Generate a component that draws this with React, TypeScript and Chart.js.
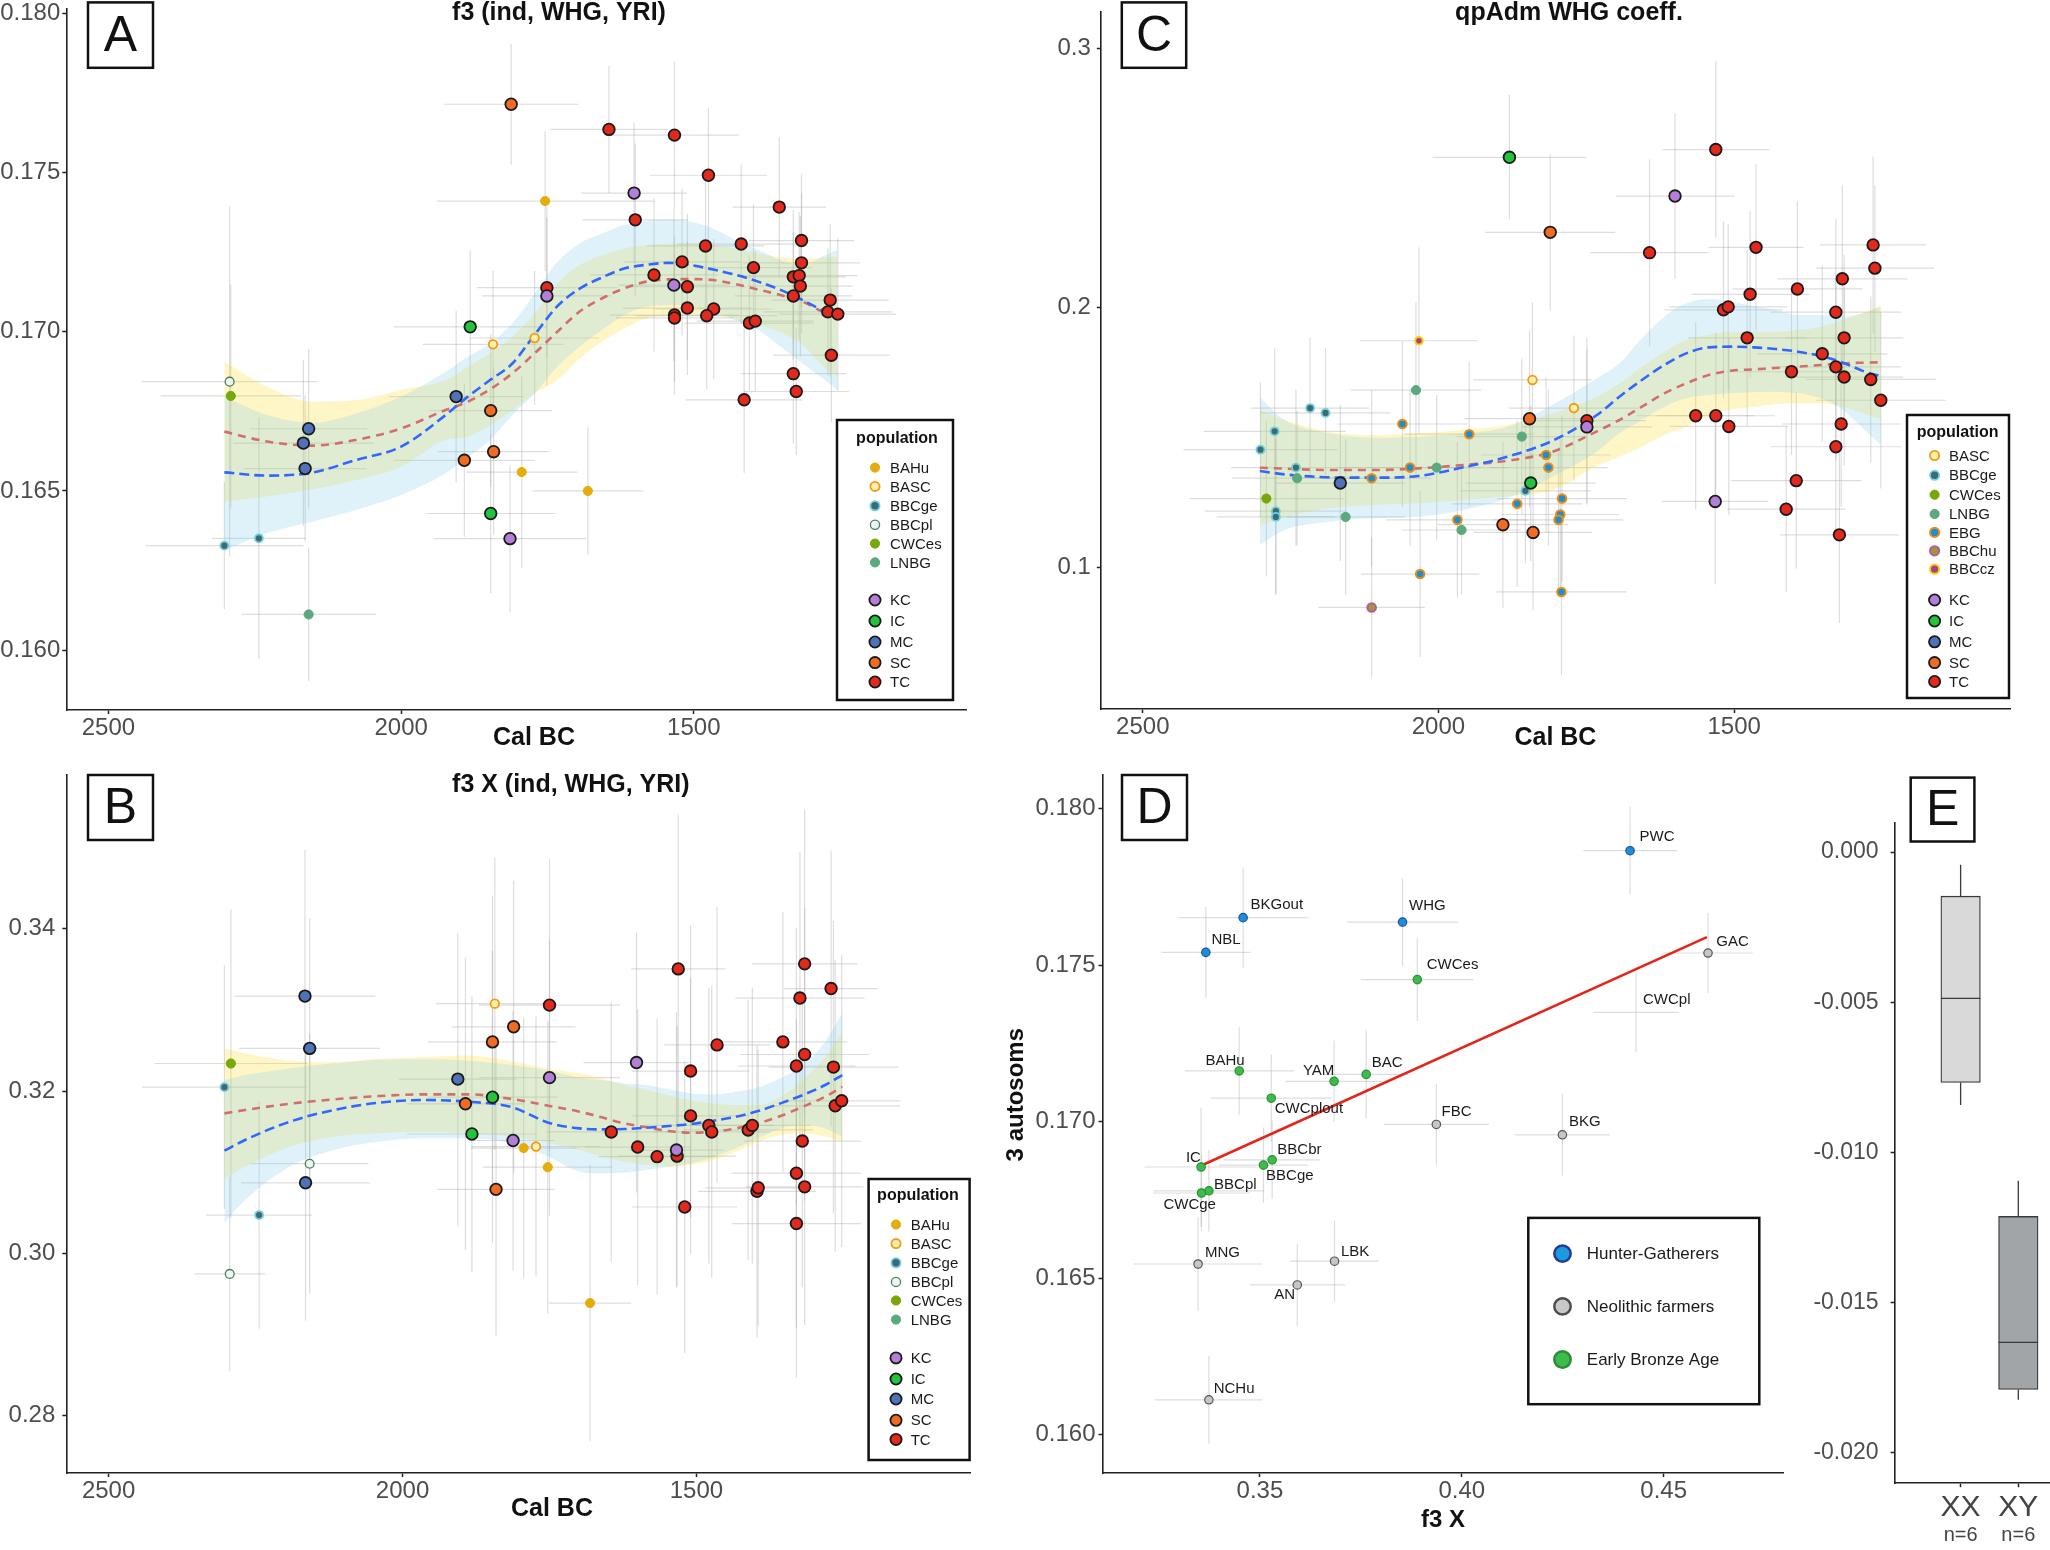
import React, { useEffect, useRef } from 'react';
import { Chart, registerables } from 'chart.js';

Chart.register(...registerables);

const FONT = '"Liberation Sans", Arial, Helvetica, sans-serif';
Chart.defaults.font.family = FONT;
const TICK = '#4d4d4d';
const AXIS = '#222222';

type P = [number, number, number, number]; // x, y, x error, y error

// ================= Panel A : f3 (ind, WHG, YRI) =================
const aBAHu: P[] = [[1754, 0.17410, 185, 0.0022], [1794, 0.16559, 95, 0.0030], [1681, 0.16500, 95, 0.0020]];
const aBASC: P[] = [[1843, 0.16960, 120, 0.0023], [1772, 0.16980, 110, 0.0021]];
const aBBCge: P[] = [[2302, 0.16328, 135, 0.0020], [2243, 0.16351, 80, 0.0038]];
const aBBCpl: P[] = [[2293, 0.16843, 150, 0.0055]];
const aCWCes: P[] = [[2291, 0.16798, 120, 0.0035]];
const aLNBG: P[] = [[2158, 0.16112, 115, 0.0021]];
const aKC: P[] = [[1814, 0.16350, 130, 0.0023], [1751, 0.17112, 110, 0.0028], [1602, 0.17435, 90, 0.0022], [1534, 0.17146, 95, 0.0024]];
const aIC: P[] = [[1882, 0.17015, 130, 0.0024], [1847, 0.16429, 110, 0.0025]];
const aMC: P[] = [[2158, 0.16695, 100, 0.0025], [2167, 0.16650, 120, 0.0026], [2164, 0.16570, 105, 0.0023], [1906, 0.16796, 115, 0.0027]];
const aSC: P[] = [[1812, 0.17714, 115, 0.0019], [1847, 0.16752, 105, 0.0024], [1842, 0.16623, 95, 0.0026], [1892, 0.16596, 120, 0.0024]];
const aTC: P[] = [
  [1751, 0.17138, 120, 0.0022], [1645, 0.17635, 100, 0.0020], [1533, 0.17617, 110, 0.0023], [1475, 0.17491, 100, 0.0021],
  [1600, 0.17351, 90, 0.0024], [1354, 0.17391, 80, 0.0022], [1480, 0.17269, 100, 0.0020], [1419, 0.17275, 110, 0.0025],
  [1316, 0.17286, 90, 0.0021], [1520, 0.17219, 100, 0.0023], [1398, 0.17201, 100, 0.0020], [1316, 0.17216, 100, 0.0022],
  [1568, 0.17178, 110, 0.0024], [1330, 0.17172, 90, 0.0021], [1320, 0.17176, 100, 0.0020], [1511, 0.17141, 100, 0.0023],
  [1318, 0.17143, 90, 0.0022], [1330, 0.17112, 100, 0.0020], [1267, 0.17099, 100, 0.0024], [1511, 0.17074, 110, 0.0021],
  [1466, 0.17071, 100, 0.0022], [1533, 0.17052, 110, 0.0025], [1533, 0.17043, 100, 0.0020], [1478, 0.17050, 120, 0.0023],
  [1405, 0.17027, 110, 0.0021], [1395, 0.17033, 100, 0.0022], [1271, 0.17062, 110, 0.0020], [1254, 0.17055, 100, 0.0024],
  [1265, 0.16926, 100, 0.0021], [1330, 0.16868, 90, 0.0022], [1325, 0.16812, 90, 0.0020], [1414, 0.16786, 100, 0.0023],
];
const aSmoothX = [2302, 2229, 2153, 2077, 2000, 1924, 1886, 1848, 1810, 1772, 1733, 1695, 1657, 1619, 1581, 1543, 1505, 1467, 1428, 1390, 1352, 1314, 1276, 1255];
const aBlueFit = [0.16558, 0.16548, 0.16557, 0.16597, 0.16639, 0.16738, 0.16796, 0.16848, 0.16900, 0.16990, 0.17080, 0.17135, 0.17170, 0.17198, 0.17210, 0.17216, 0.17209, 0.17195, 0.17178, 0.17157, 0.17131, 0.17099, 0.17063, 0.17047];
const aBlueHi = [0.16796, 0.16738, 0.16714, 0.16743, 0.16796, 0.16874, 0.16921, 0.16963, 0.17026, 0.17120, 0.17219, 0.17277, 0.17308, 0.17335, 0.17348, 0.17352, 0.17345, 0.17324, 0.17287, 0.17256, 0.17225, 0.17209, 0.17240, 0.17256];
const aBlueLo = [0.16314, 0.16367, 0.16403, 0.16440, 0.16487, 0.16555, 0.16607, 0.16660, 0.16738, 0.16806, 0.16890, 0.16953, 0.17005, 0.17052, 0.17078, 0.17083, 0.17080, 0.17063, 0.17036, 0.17005, 0.16953, 0.16900, 0.16848, 0.16817];
const aRedFit = [0.16686, 0.16655, 0.16642, 0.16660, 0.16696, 0.16754, 0.16780, 0.16819, 0.16869, 0.16932, 0.17000, 0.17063, 0.17104, 0.17136, 0.17157, 0.17164, 0.17165, 0.17162, 0.17149, 0.17132, 0.17115, 0.17094, 0.17059, 0.17047];
const aYelHi = [0.16906, 0.16827, 0.16780, 0.16785, 0.16817, 0.16848, 0.16890, 0.16932, 0.16984, 0.17057, 0.17151, 0.17209, 0.17240, 0.17261, 0.17272, 0.17277, 0.17277, 0.17272, 0.17261, 0.17246, 0.17233, 0.17230, 0.17233, 0.17235];
const aYelLo = [0.16466, 0.16482, 0.16504, 0.16534, 0.16576, 0.16660, 0.16670, 0.16706, 0.16754, 0.16806, 0.16848, 0.16916, 0.16968, 0.17010, 0.17042, 0.17051, 0.17053, 0.17052, 0.17037, 0.17020, 0.16997, 0.16958, 0.16886, 0.16859];
const aYTicks = [0.160, 0.165, 0.170, 0.175, 0.180];

// ================= Panel B : f3 X (ind, WHG, YRI) =================
const bBAHu: P[] = [[1794, 0.31298, 90, 0.016], [1753, 0.31062, 110, 0.018], [1681, 0.29389, 70, 0.017]];
const bBASC: P[] = [[1843, 0.33076, 100, 0.018], [1773, 0.31316, 110, 0.016]];
const bBBCge: P[] = [[2303, 0.32048, 140, 0.015], [2244, 0.30473, 90, 0.014]];
const bBBCpl: P[] = [[2294, 0.29748, 60, 0.012], [2158, 0.31105, 100, 0.016]];
const bCWCes: P[] = [[2292, 0.32339, 130, 0.019]];
const bLNBG: P[] = [];
const bKC: P[] = [[1812, 0.31391, 70, 0.016], [1750, 0.32165, 120, 0.017], [1602, 0.32351, 90, 0.016], [1534, 0.31273, 80, 0.017]];
const bIC: P[] = [[1847, 0.31924, 110, 0.018], [1882, 0.31471, 110, 0.017]];
const bMC: P[] = [[2166, 0.33169, 120, 0.018], [2158, 0.32525, 120, 0.016], [2165, 0.30870, 110, 0.017], [1906, 0.32147, 100, 0.018]];
const bSC: P[] = [[1893, 0.31843, 100, 0.018], [1847, 0.32605, 110, 0.018], [1811, 0.32791, 105, 0.018], [1841, 0.30789, 100, 0.018]];
const bTC: P[] = [
  [1750, 0.33058, 120, 0.018], [1645, 0.31496, 110, 0.016], [1600, 0.31310, 90, 0.017], [1567, 0.31192, 100, 0.017],
  [1533, 0.31198, 100, 0.016], [1531, 0.33504, 80, 0.019], [1520, 0.30572, 90, 0.018], [1510, 0.32246, 100, 0.018],
  [1510, 0.31694, 100, 0.017], [1479, 0.31576, 110, 0.017], [1474, 0.31496, 100, 0.018], [1465, 0.32568, 90, 0.017],
  [1412, 0.31521, 110, 0.016], [1405, 0.31576, 100, 0.017], [1397, 0.30765, 100, 0.018], [1395, 0.30808, 90, 0.017],
  [1353, 0.32605, 110, 0.016], [1330, 0.32308, 100, 0.017], [1316, 0.32450, 110, 0.018], [1324, 0.33145, 110, 0.018],
  [1316, 0.33566, 90, 0.019], [1271, 0.33262, 80, 0.017], [1267, 0.32295, 110, 0.018], [1320, 0.31384, 100, 0.018],
  [1330, 0.30988, 110, 0.019], [1316, 0.30820, 100, 0.017], [1330, 0.30368, 110, 0.019], [1264, 0.31818, 110, 0.018],
  [1253, 0.31880, 100, 0.018],
];
const bSmoothX = [2303, 2268, 2192, 2117, 2041, 1965, 1889, 1813, 1752, 1699, 1661, 1623, 1585, 1547, 1509, 1471, 1433, 1395, 1357, 1319, 1281, 1252];
const bBlueFit = [0.31265, 0.31397, 0.31622, 0.31766, 0.31856, 0.31889, 0.31869, 0.31799, 0.31610, 0.31540, 0.31528, 0.31532, 0.31548, 0.31569, 0.31594, 0.31635, 0.31684, 0.31754, 0.31848, 0.31951, 0.32074, 0.32197];
const bRedFit = [0.31725, 0.31766, 0.31844, 0.31897, 0.31938, 0.31959, 0.31959, 0.31901, 0.31819, 0.31746, 0.31676, 0.31602, 0.31553, 0.31507, 0.31487, 0.31499, 0.31540, 0.31602, 0.31692, 0.31807, 0.31930, 0.32053];
const bBlueHi = [0.32135, 0.32197, 0.32279, 0.32341, 0.32382, 0.32390, 0.32374, 0.32320, 0.32250, 0.32168, 0.32135, 0.32094, 0.32074, 0.32021, 0.31971, 0.31959, 0.31992, 0.32045, 0.32156, 0.32320, 0.32608, 0.32957];
const bBlueLo = [0.30379, 0.30658, 0.31068, 0.31273, 0.31376, 0.31417, 0.31417, 0.31356, 0.31191, 0.31007, 0.30986, 0.30994, 0.31027, 0.31068, 0.31109, 0.31191, 0.31294, 0.31417, 0.31540, 0.31581, 0.31540, 0.31438];
const bYelHi = [0.32526, 0.32464, 0.32374, 0.32357, 0.32398, 0.32419, 0.32439, 0.32365, 0.32275, 0.32218, 0.32160, 0.32074, 0.32016, 0.31947, 0.31885, 0.31848, 0.31828, 0.31828, 0.31926, 0.32135, 0.32419, 0.32731];
const bYelLo = [0.30924, 0.31068, 0.31315, 0.31438, 0.31479, 0.31499, 0.31479, 0.31438, 0.31364, 0.31273, 0.31191, 0.31130, 0.31089, 0.31068, 0.31089, 0.31150, 0.31253, 0.31376, 0.31458, 0.31479, 0.31438, 0.31376];
const bYTicks = [0.28, 0.30, 0.32, 0.34];

// ================= Panel C : qpAdm WHG coeff. =================
const cBASC: P[] = [[1841, 0.17221, 100, 0.030], [1771, 0.16139, 110, 0.028]];
const cBBCge: P[] = [[2301, 0.14534, 130, 0.026], [2277, 0.15243, 120, 0.032], [2217, 0.16139, 100, 0.027], [2191, 0.15952, 110, 0.025], [2241, 0.13844, 110, 0.030], [2275, 0.12165, 120, 0.032], [2275, 0.11941, 100, 0.030], [1853, 0.12949, 110, 0.028]];
const cCWCes: P[] = [[2291, 0.12650, 130, 0.030]];
const cLNBG: P[] = [[2239, 0.13434, 110, 0.026], [2157, 0.11941, 100, 0.030], [2038, 0.16829, 110, 0.034], [2003, 0.13844, 120, 0.028], [1961, 0.11438, 100, 0.025], [1859, 0.15038, 110, 0.030]];
const cEBG: P[] = [[2113, 0.13434, 100, 0.034], [2061, 0.15523, 110, 0.032], [2048, 0.13844, 120, 0.030], [2031, 0.09740, 100, 0.032], [1948, 0.15131, 110, 0.028], [1968, 0.11830, 120, 0.030], [1867, 0.12445, 110, 0.032], [1818, 0.14329, 110, 0.030], [1814, 0.13844, 100, 0.030], [1791, 0.12650, 110, 0.032], [1794, 0.12035, 100, 0.030], [1797, 0.11830, 110, 0.028], [1792, 0.09050, 110, 0.032]];
const cBBChu: P[] = [[2113, 0.08453, 90, 0.027]];
const cBBCcz: P[] = [[2033, 0.18732, 100, 0.036]];
const cKC: P[] = [[1600, 0.24310, 100, 0.032], [1749, 0.15411, 110, 0.030], [1532, 0.12538, 90, 0.032]];
const cIC: P[] = [[1880, 0.25802, 130, 0.024], [1844, 0.13247, 110, 0.030]];
const cMC: P[] = [[2166, 0.13247, 110, 0.030]];
const cSC: P[] = [[1811, 0.22911, 110, 0.030], [1846, 0.15728, 110, 0.034], [1891, 0.11643, 110, 0.032], [1840, 0.11344, 100, 0.030]];
const cTC: P[] = [
  [1749, 0.15654, 100, 0.032], [1531, 0.26101, 90, 0.034], [1643, 0.22127, 100, 0.036], [1463, 0.22332, 80, 0.032],
  [1265, 0.22426, 90, 0.034], [1262, 0.21530, 100, 0.032], [1317, 0.21119, 110, 0.036], [1393, 0.20728, 110, 0.034],
  [1473, 0.20523, 100, 0.032], [1518, 0.19926, 100, 0.034], [1510, 0.20038, 100, 0.032], [1328, 0.19833, 110, 0.036],
  [1478, 0.18844, 100, 0.034], [1314, 0.18844, 100, 0.032], [1351, 0.18229, 110, 0.034], [1328, 0.17725, 110, 0.036],
  [1403, 0.17538, 110, 0.032], [1314, 0.17333, 100, 0.034], [1269, 0.17240, 110, 0.032], [1252, 0.16438, 110, 0.034],
  [1565, 0.15841, 100, 0.036], [1531, 0.15841, 100, 0.032], [1509, 0.15430, 100, 0.034], [1319, 0.15523, 100, 0.032],
  [1328, 0.14647, 110, 0.036], [1395, 0.13340, 110, 0.034], [1412, 0.12240, 100, 0.032], [1322, 0.11251, 100, 0.034],
];
const cSmoothX = [2302, 2260, 2185, 2109, 2034, 1958, 1883, 1807, 1732, 1694, 1656, 1618, 1581, 1543, 1505, 1467, 1430, 1392, 1354, 1316, 1279, 1252];
const cBlueFit = [0.13712, 0.13583, 0.13468, 0.13455, 0.13519, 0.13853, 0.14264, 0.14881, 0.15870, 0.16577, 0.17219, 0.17797, 0.18247, 0.18478, 0.18504, 0.18478, 0.18414, 0.18311, 0.18144, 0.17887, 0.17540, 0.17373];
const cRedFit = [0.13840, 0.13802, 0.13750, 0.13750, 0.13814, 0.13943, 0.14110, 0.14457, 0.15241, 0.15677, 0.16191, 0.16705, 0.17091, 0.17412, 0.17579, 0.17630, 0.17682, 0.17733, 0.17797, 0.17861, 0.17887, 0.17900];
const cBlueHi = [0.16551, 0.15677, 0.15163, 0.14996, 0.15035, 0.15163, 0.15420, 0.16268, 0.17283, 0.17861, 0.18825, 0.19660, 0.20174, 0.20341, 0.20238, 0.20071, 0.19917, 0.19724, 0.19724, 0.19660, 0.19814, 0.20046];
const cBlueLo = [0.10859, 0.11438, 0.11759, 0.11887, 0.11952, 0.12209, 0.12658, 0.13493, 0.14457, 0.15163, 0.15677, 0.16191, 0.16512, 0.16641, 0.16705, 0.16744, 0.16769, 0.16705, 0.16512, 0.16063, 0.15292, 0.14714];
const cYelHi = [0.16063, 0.15677, 0.15228, 0.15099, 0.15163, 0.15292, 0.15485, 0.15934, 0.16577, 0.17091, 0.17733, 0.18311, 0.18761, 0.18954, 0.19082, 0.19082, 0.19082, 0.19146, 0.19275, 0.19532, 0.19853, 0.20084];
const cYelLo = [0.11618, 0.11926, 0.12273, 0.12401, 0.12465, 0.12594, 0.12735, 0.12979, 0.13904, 0.14264, 0.14650, 0.15099, 0.15420, 0.15870, 0.16076, 0.16178, 0.16281, 0.16320, 0.16320, 0.16191, 0.15921, 0.15716];
const cYTicks = [0.1, 0.2, 0.3];

const calBCTicks = [2500, 2000, 1500];

// ================= Panel D : 3 autosoms vs f3 X =================
const dNames = ['PWC', 'BKGout', 'NBL', 'WHG', 'CWCes', 'GAC', 'CWCpl', 'BAHu', 'YAM', 'BAC', 'CWCplout', 'FBC', 'BKG', 'IC', 'BBCbr', 'BBCge', 'BBCpl', 'CWCge', 'MNG', 'LBK', 'AN', 'NCHu'];
const dGroup = ['HG', 'HG', 'HG', 'HG', 'EBA', 'NF', 'EBA', 'EBA', 'EBA', 'EBA', 'EBA', 'NF', 'NF', 'EBA', 'EBA', 'EBA', 'EBA', 'EBA', 'NF', 'NF', 'NF', 'NF'];
const dF3X = [0.44167, 0.34583, 0.33660, 0.38532, 0.38897, 0.46098, 0.44316, 0.34486, 0.36836, 0.37631, 0.35280, 0.39369, 0.42492, 0.33542, 0.35302, 0.35087, 0.33735, 0.33552, 0.33467, 0.36847, 0.35924, 0.33735];
const dAuto = [0.17866, 0.17652, 0.17541, 0.17638, 0.17454, 0.17539, 0.17349, 0.17162, 0.17129, 0.17151, 0.17075, 0.16991, 0.16958, 0.16855, 0.16878, 0.16861, 0.16779, 0.16772, 0.16545, 0.16554, 0.16478, 0.16111];
const dF3XErr = [0.0116, 0.016, 0.011, 0.0138, 0.0139, 0.0111, 0.0105, 0.0135, 0.012, 0.0105, 0.015, 0.013, 0.0118, 0.014, 0.012, 0.011, 0.0137, 0.012, 0.016, 0.011, 0.0118, 0.0133];
const dAutoErr = [0.0014, 0.0016, 0.00145, 0.0014, 0.00132, 0.00128, 0.00127, 0.0014, 0.0013, 0.0014, 0.0014, 0.0013, 0.0013, 0.0019, 0.00125, 0.0012, 0.0013, 0.0012, 0.0015, 0.0013, 0.0013, 0.0014];
const dFitX = [0.3355, 0.4607];
const dFitY = [0.1686, 0.1759];
const dXTicks = [0.35, 0.40, 0.45];
const dYTicks = [0.160, 0.165, 0.170, 0.175, 0.180];
const dGroupNames = { HG: 'Hunter-Gatherers', NF: 'Neolithic farmers', EBA: 'Early Bronze Age' };

// ================= Panel E : box plot =================
const eCats = ['XX', 'XY'];
const eN = [6, 6];
const eWhiskHi = [-0.00042, -0.01094];
const eQ3 = [-0.00147, -0.01213];
const eMedian = [-0.00487, -0.01632];
const eQ1 = [-0.00767, -0.01789];
const eWhiskLo = [-0.00842, -0.01823];
const eYTicks = [0, -0.005, -0.010, -0.015, -0.020];

// ================= styles (not data) =================
const STY: any = {
  BAHu: { fill: '#E3AE0C', stroke: '#E3AE0C', r: 4.6, bw: 1 },
  BASC: { fill: '#FFF0B0', stroke: '#F29A12', r: 4.3, bw: 1.8 },
  BBCge: { fill: '#3F6A72', stroke: '#70D0E0', r: 4.0, bw: 1.8 },
  BBCpl: { fill: '#EEF6F0', stroke: '#4B7B66', r: 4.4, bw: 1.3 },
  CWCes: { fill: '#78A808', stroke: '#78A808', r: 4.6, bw: 1 },
  LNBG: { fill: '#5DA97F', stroke: '#5DA97F', r: 4.6, bw: 1 },
  EBG: { fill: '#1C8FD0', stroke: '#F08C10', r: 4.3, bw: 2 },
  BBChu: { fill: '#A09A2A', stroke: '#B258B6', r: 4.3, bw: 2 },
  BBCcz: { fill: '#A8408C', stroke: '#F6D10F', r: 3.8, bw: 2 },
  KC: { fill: '#B47FD8', stroke: '#1a1a1a', r: 5.8, bw: 1.8, big: true },
  IC: { fill: '#22C33D', stroke: '#1a1a1a', r: 5.8, bw: 1.8, big: true },
  MC: { fill: '#5072B8', stroke: '#1a1a1a', r: 5.8, bw: 1.8, big: true },
  SC: { fill: '#F26B22', stroke: '#1a1a1a', r: 5.8, bw: 1.8, big: true },
  TC: { fill: '#E3281C', stroke: '#1a1a1a', r: 5.8, bw: 1.8, big: true },
};
const DSTY: any = {
  HG: { fill: '#1B90D8', stroke: '#1E4F9E', r: 4.2, bw: 1.2 },
  NF: { fill: '#C6C6C6', stroke: '#555555', r: 4.2, bw: 1.2 },
  EBA: { fill: '#3DBB4B', stroke: '#2B8E38', r: 4.2, bw: 1.2 },
};
const DLEG: any = {
  HG: { fill: '#1B9BDD', stroke: '#243C92', bw: 2.5 },
  NF: { fill: '#C8C8C8', stroke: '#4d4d4d', bw: 2.5 },
  EBA: { fill: '#3DBB4B', stroke: '#2E8B3A', bw: 2.5 },
};
const BLUE_BAND = 'rgba(135,206,235,0.27)';
const YELLOW_BAND = 'rgba(255,215,0,0.22)';
// label offsets for panel D (px)
const dLabelOff: [number, number][] = [
  [9.5, -13.4], [7.4, -12.9], [5.6, -13], [6.5, -16], [9.5, -14.7], [8.2, -11.2], [6.9, -13], [-33.8, -10.3],
  [-31.2, -10.3], [5.6, -11.6], [3.5, 10.3], [5.2, -12.5], [6.5, -13], [-15.2, -8.9], [5.2, -10.3], [2.6, 10.7],
  [5.2, -6.3], [-38.1, 11.6], [6.9, -11.6], [6.5, -9.8], [-23, 10.3], [4.8, -11.2],
];

// ================= plugins =================
const errorBarPlugin = {
  id: 'errorBars',
  beforeDatasetsDraw(chart: any) {
    const { ctx, chartArea, scales } = chart;
    const xs = scales.x;
    const ys = scales.y;
    ctx.save();
    ctx.beginPath();
    ctx.rect(chartArea.left, chartArea.top, chartArea.right - chartArea.left, chartArea.bottom - chartArea.top);
    ctx.clip();
    ctx.strokeStyle = 'rgba(170,170,170,0.40)';
    ctx.lineWidth = 1.2;
    chart.data.datasets.forEach((ds: any) => {
      if (!ds.errorBars) return;
      ds.data.forEach((d: any) => {
        const px = xs.getPixelForValue(d.x);
        const py = ys.getPixelForValue(d.y);
        ctx.beginPath();
        ctx.moveTo(xs.getPixelForValue(d.x - d.xe), py);
        ctx.lineTo(xs.getPixelForValue(d.x + d.xe), py);
        ctx.moveTo(px, ys.getPixelForValue(d.y - d.ye));
        ctx.lineTo(px, ys.getPixelForValue(d.y + d.ye));
        ctx.stroke();
      });
    });
    ctx.restore();
  },
};

const pointLabelPlugin = {
  id: 'pointLabels',
  afterDatasetsDraw(chart: any) {
    const { ctx } = chart;
    ctx.save();
    ctx.font = `15px ${FONT}`;
    ctx.fillStyle = '#1a1a1a';
    ctx.textAlign = 'left';
    ctx.textBaseline = 'middle';
    chart.data.datasets.forEach((ds: any, di: number) => {
      if (!ds.ptLabels) return;
      const meta = chart.getDatasetMeta(di);
      meta.data.forEach((el: any, i: number) => {
        const off = ds.ptOffsets[i];
        ctx.fillText(ds.ptLabels[i], el.x + off[0], el.y + off[1]);
      });
    });
    ctx.restore();
  },
};

const E_BOX_W = 39.5;
const boxWhiskerPlugin = {
  id: 'boxWhisker',
  afterDatasetsDraw(chart: any) {
    const { ctx, scales } = chart;
    const xs = scales.x;
    const ys = scales.y;
    ctx.save();
    ctx.strokeStyle = '#3a3a3a';
    ctx.lineWidth = 1.3;
    eCats.forEach((c, i) => {
      const px = xs.getPixelForValue(i + 1);
      const half = E_BOX_W / 2;
      ctx.beginPath();
      ctx.moveTo(px, ys.getPixelForValue(eWhiskHi[i]));
      ctx.lineTo(px, ys.getPixelForValue(eQ3[i]));
      ctx.moveTo(px, ys.getPixelForValue(eQ1[i]));
      ctx.lineTo(px, ys.getPixelForValue(eWhiskLo[i]));
      ctx.moveTo(px - half, ys.getPixelForValue(eMedian[i]));
      ctx.lineTo(px + half, ys.getPixelForValue(eMedian[i]));
      ctx.stroke();
      ctx.font = `20px ${FONT}`;
      ctx.fillStyle = '#444';
      ctx.textAlign = 'center';
      ctx.textBaseline = 'middle';
      ctx.fillText('n=' + eN[i], px, 775);
    });
    ctx.restore();
  },
};

function makeDecor(cfg: any) {
  return {
    id: 'decor',
    afterDraw(chart: any) {
      const ctx = chart.ctx;
      ctx.save();
      if (cfg.title) {
        ctx.font = `bold 25px ${FONT}`;
        ctx.fillStyle = '#111';
        ctx.textAlign = 'center';
        ctx.textBaseline = 'middle';
        ctx.fillText(cfg.title.text, cfg.title.x, cfg.title.y);
      }
      (cfg.texts || []).forEach((t: any) => {
        ctx.save();
        ctx.font = t.font;
        ctx.fillStyle = t.color || '#111';
        ctx.textAlign = 'center';
        ctx.textBaseline = 'middle';
        ctx.translate(t.x, t.y);
        if (t.rotate) ctx.rotate(t.rotate);
        ctx.fillText(t.text, 0, 0);
        ctx.restore();
      });
      if (cfg.letter) {
        const L = cfg.letter;
        ctx.fillStyle = '#fff';
        ctx.fillRect(L.x, L.y, L.w, L.h);
        ctx.lineWidth = 2.5;
        ctx.strokeStyle = '#111';
        ctx.strokeRect(L.x, L.y, L.w, L.h);
        ctx.font = `50px ${FONT}`;
        ctx.fillStyle = '#111';
        ctx.textAlign = 'center';
        ctx.textBaseline = 'middle';
        ctx.fillText(L.text, L.x + L.w / 2, L.y + L.h / 2 + 2);
      }
      if (cfg.legend) {
        const G = cfg.legend;
        ctx.fillStyle = '#fff';
        ctx.fillRect(G.x, G.y, G.w, G.h);
        ctx.lineWidth = 2.5;
        ctx.strokeStyle = '#111';
        ctx.strokeRect(G.x, G.y, G.w, G.h);
        if (G.title) {
          ctx.font = `bold 16px ${FONT}`;
          ctx.fillStyle = '#111';
          ctx.textAlign = 'center';
          ctx.textBaseline = 'middle';
          ctx.fillText(G.title, G.tx, G.ty);
        }
        ctx.font = `${G.fontSize}px ${FONT}`;
        ctx.textAlign = 'left';
        ctx.textBaseline = 'middle';
        G.items.forEach((it: any) => {
          const s = it.style;
          ctx.beginPath();
          ctx.arc(G.symX, it.y, it.r, 0, Math.PI * 2);
          ctx.fillStyle = s.fill;
          ctx.fill();
          ctx.lineWidth = s.bw;
          ctx.strokeStyle = s.stroke;
          ctx.stroke();
          ctx.fillStyle = '#1a1a1a';
          ctx.fillText(it.label, G.textX, it.y + 1);
        });
      }
      ctx.restore();
    },
  };
}

// ================= config builders =================
function bandDs(xs: number[], hi: number[], lo: number[], color: string, order: number) {
  return [
    { type: 'line', data: xs.map((x, i) => ({ x, y: hi[i] })), borderColor: 'rgba(0,0,0,0)', borderWidth: 0, pointRadius: 0, fill: '+1', backgroundColor: color, cubicInterpolationMode: 'monotone', order },
    { type: 'line', data: xs.map((x, i) => ({ x, y: lo[i] })), borderColor: 'rgba(0,0,0,0)', borderWidth: 0, pointRadius: 0, fill: false, cubicInterpolationMode: 'monotone', order },
  ];
}
function fitDs(xs: number[], ys: number[], color: string, dash: number[], order: number) {
  return { type: 'line', data: xs.map((x, i) => ({ x, y: ys[i] })), borderColor: color, borderWidth: 2.6, borderDash: dash, pointRadius: 0, fill: false, cubicInterpolationMode: 'monotone', order };
}
function pointDs(name: string, data: P[]) {
  const s = STY[name];
  return {
    type: 'scatter', label: name,
    data: data.map((p) => ({ x: p[0], y: p[1], xe: p[2], ye: p[3] })),
    pointRadius: s.r, pointHoverRadius: s.r, pointBackgroundColor: s.fill, pointBorderColor: s.stroke, pointBorderWidth: s.bw,
    errorBars: true, order: s.big ? 2 : 3,
  };
}
function axisCommon() {
  return {
    grid: { drawOnChartArea: false, drawTicks: true, tickLength: 4, tickColor: AXIS, tickWidth: 1.5 },
    border: { display: true, color: AXIS, width: 1.6 },
  };
}

function timeConfig(o: any) {
  const datasets: any[] = [
    // yellow band drawn first (underneath), sky-blue band over it
    ...bandDs(o.sx, o.yelHi, o.yelLo, YELLOW_BAND, 12),
    ...bandDs(o.sx, o.blueHi, o.blueLo, BLUE_BAND, 11),
    fitDs(o.sx, o.redFit, '#D0706C', [8, 6], 6),
    fitDs(o.sx, o.blueFit, '#3366FF', [10, 5], 5),
    ...o.groups.map((g: any) => pointDs(g[0], g[1])),
  ];
  const legendItems = o.legendItems.map((it: any) => ({ label: it[0], y: it[1], style: STY[it[0]], r: STY[it[0]].big ? 5.6 : 4.6 }));
  return {
    type: 'scatter',
    data: { datasets },
    options: {
      responsive: false, animation: false, events: [],
      layout: { padding: { top: o.padTop, right: o.padRight, left: 0, bottom: 0 } },
      plugins: { legend: { display: false }, tooltip: { enabled: false } },
      scales: {
        x: {
          type: 'linear', reverse: true, min: o.xMin, max: o.xMax, offset: false,
          afterBuildTicks: (s: any) => { s.ticks = calBCTicks.map((v) => ({ value: v })); },
          afterFit: (s: any) => { s.height = o.xH; s.paddingLeft = 0; s.paddingRight = 0; },
          ticks: { font: { size: 24 }, color: TICK, padding: 0, maxRotation: 0, autoSkip: false, callback: (v: any) => String(v) },
          title: { display: !!o.xTitleScale, text: 'Cal BC', color: '#111', font: { size: 25, weight: 'bold' }, padding: { top: 0, bottom: 4 } },
          ...axisCommon(),
        },
        y: {
          type: 'linear', min: o.yMin, max: o.yMax,
          afterBuildTicks: (s: any) => { s.ticks = o.yTicks.map((v: number) => ({ value: v })); },
          afterFit: (s: any) => { s.width = o.yW; s.paddingTop = 0; s.paddingBottom = 0; },
          ticks: { font: { size: 24 }, color: TICK, padding: o.yPad, callback: (v: any) => Number(v).toFixed(o.yDec) },
          ...axisCommon(),
        },
      },
    },
    plugins: [errorBarPlugin, makeDecor({ ...o.decor, legend: { ...o.legend, items: legendItems } })],
  };
}

function configA() {
  return timeConfig({
    groups: [['BAHu', aBAHu], ['BASC', aBASC], ['BBCge', aBBCge], ['BBCpl', aBBCpl], ['CWCes', aCWCes], ['LNBG', aLNBG], ['KC', aKC], ['IC', aIC], ['MC', aMC], ['SC', aSC], ['TC', aTC]],
    sx: aSmoothX, blueFit: aBlueFit, blueHi: aBlueHi, blueLo: aBlueLo, redFit: aRedFit, yelHi: aYelHi, yelLo: aYelLo,
    xMin: 1035, xMax: 2572, yMin: 0.15812, yMax: 0.18013, yTicks: aYTicks, yDec: 3,
    padTop: 9, padRight: 34, yW: 66.3, xH: 47, yPad: 2, xTitleScale: false,
    decor: {
      title: { text: 'f3 (ind, WHG, YRI)', x: 559, y: 13 },
      letter: { text: 'A', x: 88, y: 2.4, w: 65, h: 65.4 },
      texts: [{ text: 'Cal BC', x: 534, y: 738, font: `bold 25px ${FONT}` }],
    },
    legend: { x: 837, y: 420, w: 116, h: 280, title: 'population', tx: 897, ty: 439, symX: 875, textX: 890, fontSize: 15 },
    legendItems: [['BAHu', 467.6], ['BASC', 486.4], ['BBCge', 505.8], ['BBCpl', 524.7], ['CWCes', 543.6], ['LNBG', 562.4], ['KC', 600], ['IC', 621], ['MC', 642], ['SC', 662.6], ['TC', 682]],
  });
}
function configB() {
  return timeConfig({
    groups: [['BAHu', bBAHu], ['BASC', bBASC], ['BBCge', bBBCge], ['BBCpl', bBBCpl], ['CWCes', bCWCes], ['LNBG', bLNBG], ['KC', bKC], ['IC', bIC], ['MC', bMC], ['SC', bSC], ['TC', bTC]],
    sx: bSmoothX, blueFit: bBlueFit, blueHi: bBlueHi, blueLo: bBlueLo, redFit: bRedFit, yelHi: bYelHi, yelLo: bYelLo,
    xMin: 1033.5, xMax: 2572, yMin: 0.27296, yMax: 0.35892, yTicks: bYTicks, yDec: 2,
    padTop: 15, padRight: 29.3, yW: 66.3, xH: 55, yPad: 7, xTitleScale: false,
    decor: {
      title: { text: 'f3 X (ind, WHG, YRI)', x: 570.8, y: 25.2 },
      letter: { text: 'B', x: 88, y: 15, w: 65, h: 65 },
      texts: [{ text: 'Cal BC', x: 552, y: 749, font: `bold 25px ${FONT}` }],
    },
    legend: { x: 868.6, y: 419, w: 101, h: 281, title: 'population', tx: 918, ty: 435.8, symX: 896, textX: 910.7, fontSize: 15 },
    legendItems: [['BAHu', 464.5], ['BASC', 483.6], ['BBCge', 502.8], ['BBCpl', 521.9], ['CWCes', 540.5], ['LNBG', 559.6], ['KC', 597.9], ['IC', 619], ['MC', 639], ['SC', 660.3], ['TC', 679.4]],
  });
}
function configC() {
  return timeConfig({
    groups: [['BASC', cBASC], ['BBCge', cBBCge], ['CWCes', cCWCes], ['LNBG', cLNBG], ['EBG', cEBG], ['BBChu', cBBChu], ['BBCcz', cBBCcz], ['KC', cKC], ['IC', cIC], ['MC', cMC], ['SC', cSC], ['TC', cTC]],
    sx: cSmoothX, blueFit: cBlueFit, blueHi: cBlueHi, blueLo: cBlueLo, redFit: cRedFit, yelHi: cYelHi, yelLo: cYelLo,
    xMin: 1033.5, xMax: 2571, yMin: 0.04539, yMax: 0.31403, yTicks: cYTicks, yDec: 1,
    padTop: 12, padRight: 40, yW: 90.8, xH: 48, yPad: 6, xTitleScale: true,
    decor: {
      title: { text: 'qpAdm WHG coeff.', x: 559, y: 13 },
      letter: { text: 'C', x: 111.8, y: 2.4, w: 64.4, h: 65.4 },
    },
    legend: { x: 897, y: 415, w: 102, h: 283, title: 'population', tx: 947.6, ty: 433, symX: 924.6, textX: 939, fontSize: 15 },
    legendItems: [['BASC', 455.5], ['BBCge', 475.3], ['CWCes', 494.7], ['LNBG', 514], ['EBG', 532.4], ['BBChu', 550.8], ['BBCcz', 569.2], ['KC', 600], ['IC', 621], ['MC', 641.8], ['SC', 662.6], ['TC', 681.5]],
  });
}

function configD() {
  const groups = ['HG', 'NF', 'EBA'];
  const ptDatasets = groups.map((g) => {
    const idx = dNames.map((_, i) => i).filter((i) => dGroup[i] === g);
    const s = DSTY[g];
    return {
      type: 'scatter', label: (dGroupNames as any)[g],
      data: idx.map((i) => ({ x: dF3X[i], y: dAuto[i], xe: dF3XErr[i], ye: dAutoErr[i] })),
      pointRadius: idx.map((i) => (dNames[i] === 'CWCpl' ? 0 : s.r)),
      pointHoverRadius: s.r, pointBackgroundColor: s.fill, pointBorderColor: s.stroke, pointBorderWidth: s.bw,
      errorBars: true, order: 2,
      ptLabels: idx.map((i) => dNames[i]), ptOffsets: idx.map((i) => dLabelOff[i]),
    };
  });
  const fit = { type: 'line', data: dFitX.map((x, i) => ({ x, y: dFitY[i] })), borderColor: '#E3261B', borderWidth: 2.6, pointRadius: 0, fill: false, order: 4 };
  const legendItems = groups.map((g, k) => ({ label: (dGroupNames as any)[g], y: [493.6, 546.4, 599.5][k], style: DLEG[g], r: 8.2 }));
  return {
    type: 'scatter',
    data: { datasets: [fit, ...ptDatasets] },
    options: {
      responsive: false, animation: false, events: [],
      layout: { padding: { top: 15, right: 6.4, left: 0, bottom: 0 } },
      plugins: { legend: { display: false }, tooltip: { enabled: false } },
      scales: {
        x: {
          type: 'linear', min: 0.311, max: 0.4797, offset: false,
          afterBuildTicks: (s: any) => { s.ticks = dXTicks.map((v) => ({ value: v })); },
          afterFit: (s: any) => { s.height = 77; s.paddingLeft = 0; s.paddingRight = 0; },
          ticks: { font: { size: 24 }, color: TICK, padding: 0, maxRotation: 0, autoSkip: false, callback: (v: any) => Number(v).toFixed(2) },
          title: { display: true, text: 'f3 X', color: '#111', font: { size: 24, weight: 'bold' }, padding: { top: 0, bottom: 15.6 } },
          ...axisCommon(),
        },
        y: {
          type: 'linear', min: 0.15877, max: 0.18108,
          afterBuildTicks: (s: any) => { s.ticks = dYTicks.map((v) => ({ value: v })); },
          afterFit: (s: any) => { s.width = 102.5; s.paddingTop = 0; s.paddingBottom = 0; },
          ticks: { font: { size: 24 }, color: TICK, padding: 3, callback: (v: any) => Number(v).toFixed(3) },
          ...axisCommon(),
        },
      },
    },
    plugins: [
      errorBarPlugin, pointLabelPlugin,
      makeDecor({
        letter: { text: 'D', x: 122, y: 15, w: 65, h: 65 },
        texts: [{ text: '3 autosoms', x: 16.7, y: 334.7, font: `bold 24px ${FONT}`, rotate: -Math.PI / 2 }],
        legend: { x: 528.3, y: 457.9, w: 231, h: 186.3, symX: 562.5, textX: 586.8, fontSize: 17, items: legendItems },
      }),
    ],
  };
}

function configE() {
  return {
    type: 'bar',
    data: {
      datasets: [{
        data: eCats.map((c, i) => ({ x: i + 1, y: [eQ1[i], eQ3[i]] })),
        backgroundColor: ['#D9D9D9', '#A2A5A8'],
        borderColor: '#3a3a3a', borderWidth: 1.3, borderSkipped: false, barThickness: E_BOX_W,
      }],
    },
    options: {
      responsive: false, animation: false, events: [],
      layout: { padding: { top: 62.9, right: 0, left: 0, bottom: 0 } },
      plugins: { legend: { display: false }, tooltip: { enabled: false } },
      scales: {
        x: {
          type: 'linear', min: -0.1438, max: 2.549, offset: false,
          afterBuildTicks: (s: any) => { s.ticks = eCats.map((c, i) => ({ value: i + 1 })); },
          afterFit: (s: any) => { s.height = 66.8; s.paddingLeft = 0; s.paddingRight = 0; },
          ticks: { font: { size: 30 }, color: '#444', padding: 3, maxRotation: 0, autoSkip: false, callback: (v: any) => eCats[Math.round(Number(v)) - 1] || '' },
          ...axisCommon(),
          grid: { drawOnChartArea: false, drawTicks: true, tickLength: 4, tickColor: AXIS, tickWidth: 1.5, offset: false },
        },
        y: {
          type: 'linear', min: -0.02101, max: 0.00097,
          afterBuildTicks: (s: any) => { s.ticks = eYTicks.map((v) => ({ value: v })); },
          afterFit: (s: any) => { s.width = 104.6; s.paddingTop = 0; s.paddingBottom = 0; },
          ticks: { font: { size: 23 }, color: TICK, padding: 12, callback: (v: any) => Number(v).toFixed(3) },
          ...axisCommon(),
        },
      },
    },
    plugins: [boxWhiskerPlugin, makeDecor({ letter: { text: 'E', x: 120.7, y: 17.6, w: 63.7, h: 63.9 } })],
  };
}

function ChartCanvas({ left, top, width, height, build }: any) {
  const ref = useRef<HTMLCanvasElement | null>(null);
  useEffect(() => {
    const chart = new Chart(ref.current as HTMLCanvasElement, build() as any);
    return () => chart.destroy();
  }, []);
  return <canvas ref={ref} width={width} height={height} style={{ position: 'absolute', left, top, width, height }} />;
}

export default function App() {
  return (
    <div style={{ position: 'absolute', left: 0, top: 0, width: 2050, height: 1550, background: '#ffffff', overflow: 'hidden' }}>
      <ChartCanvas left={0} top={0} width={1000} height={757} build={configA} />
      <ChartCanvas left={1010} top={0} width={1040} height={757} build={configC} />
      <ChartCanvas left={0} top={760} width={1000} height={768} build={configB} />
      <ChartCanvas left={1000} top={760} width={790} height={790} build={configD} />
      <ChartCanvas left={1790} top={760} width={260} height={790} build={configE} />
    </div>
  );
}
